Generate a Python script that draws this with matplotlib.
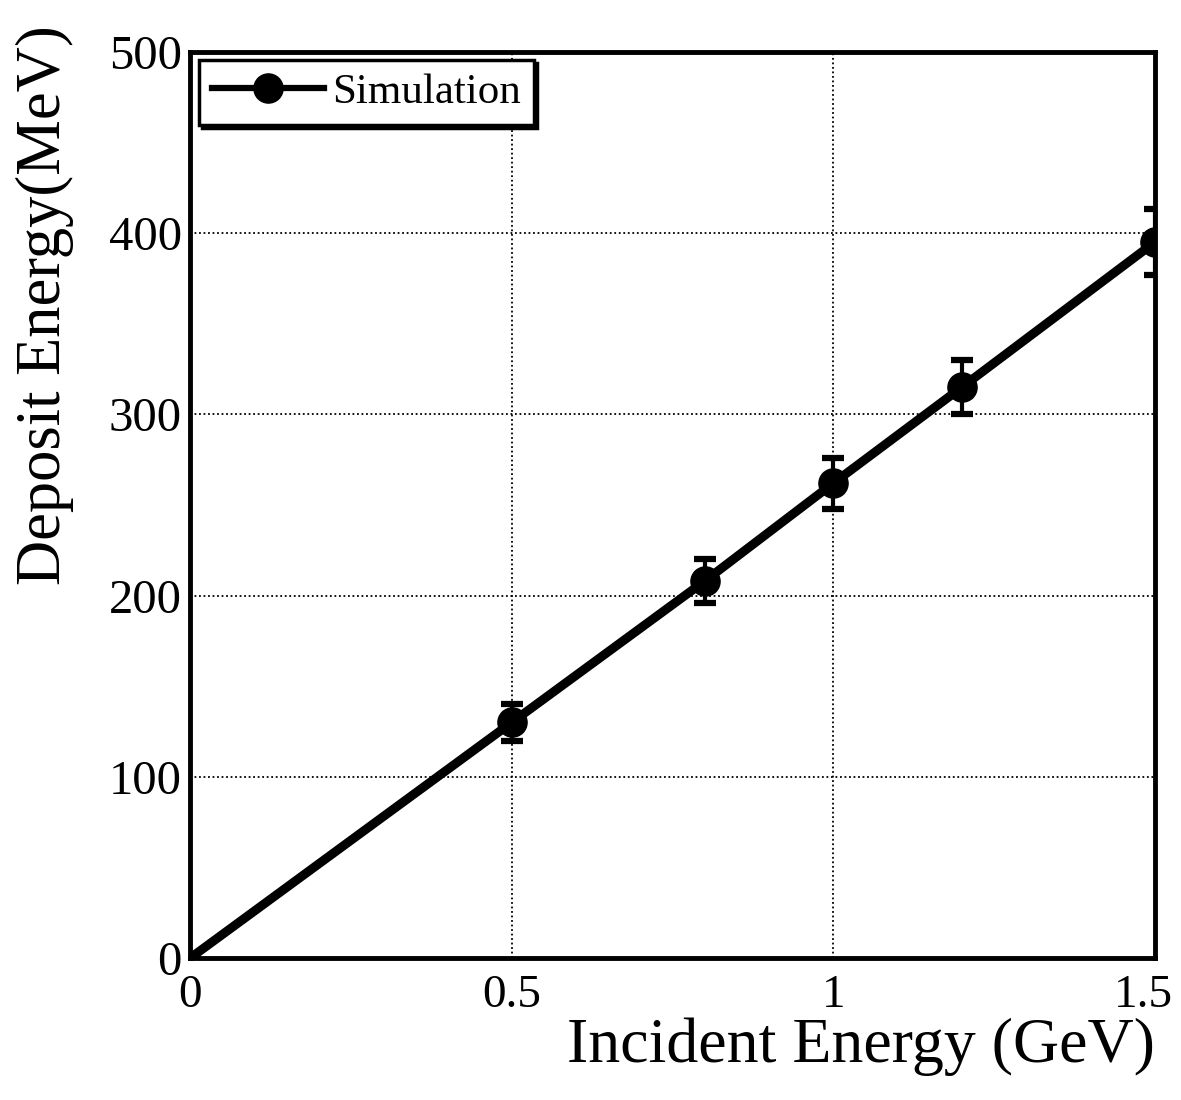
import matplotlib
matplotlib.use("Agg")
import matplotlib.pyplot as plt
import matplotlib.transforms as mtransforms

# Data
incident = [0.5, 0.8, 1.0, 1.2, 1.5]          # GeV
deposit = [130, 208, 262, 315, 395]           # MeV
deposit_err = [10, 12, 14, 15, 18]            # MeV
line_x = [0.0] + incident
line_y = [0.0] + deposit

x_ticks = [0, 0.5, 1, 1.5]
x_ticklabels = ["0", "0.5", "1", "1.5"]
y_ticks = [0, 100, 200, 300, 400, 500]

plt.rcParams["font.family"] = ["Liberation Serif", "DejaVu Serif"]

fig = plt.figure(figsize=(11.81, 11.0), dpi=100)
ax = fig.add_axes([0.161, 0.129, 0.817, 0.824])

ax.plot(line_x, line_y, color="black", lw=6.5, solid_capstyle="butt", zorder=3)
ax.errorbar(incident, deposit, yerr=deposit_err, fmt="o", color="black",
            ms=21, elinewidth=3, capsize=8, capthick=4.5, zorder=4)
# legend handle
ax.plot([], [], color="black", lw=4.5, marker="o", ms=21, label="Simulation")

ax.set_xlim(0, 1.5)
ax.set_ylim(0, 500)
ax.set_xticks(x_ticks)
ax.set_xticklabels(x_ticklabels)
ax.set_yticks(y_ticks)
ax.tick_params(axis="y", length=0, labelsize=35, pad=6)
ax.tick_params(axis="x", length=0, labelsize=34, pad=12)
ax.grid(True, color="black", ls=(0, (1, 1.5)), lw=1.3)
for s in ax.spines.values():
    s.set_linewidth(3.5)

# shift last x tick label slightly left so it stays inside the figure
last = ax.get_xticklabels()[-1]
last.set_transform(last.get_transform() +
                   mtransforms.ScaledTranslation(-12 / 100, 0, fig.dpi_scale_trans))

fig.text(0.038, 0.723, "Deposit Energy(MeV)", rotation=90, fontsize=45,
         ha="center", va="center")
ax.set_xlabel("Incident Energy (GeV)", fontsize=46, labelpad=0, loc="right")

leg = ax.legend(loc="upper left", fontsize=31, frameon=True, fancybox=False,
                handlelength=2.6, borderaxespad=0.2, borderpad=0.3,
                handletextpad=0.2,
                shadow={"color": "black", "alpha": 1})
leg.get_frame().set_edgecolor("black")
leg.get_frame().set_linewidth(2.5)
leg.get_frame().set_alpha(1)

fig.savefig("out.png", dpi=100)
